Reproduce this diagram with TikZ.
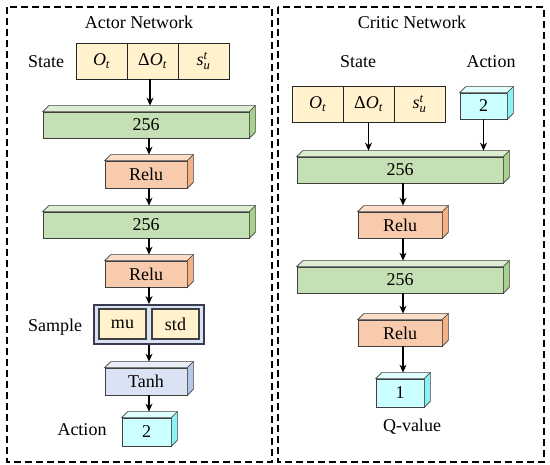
\documentclass[tikz,border=0pt]{standalone}
\usepackage{amsmath}
\usepackage{fontspec}
\setmainfont{Liberation Serif}
\usetikzlibrary{arrows.meta,calc}

\definecolor{cellfill}{HTML}{FFF2CC}
\definecolor{denseF}{HTML}{C5E0B4}
\definecolor{denseT}{HTML}{DCEDD2}
\definecolor{denseS}{HTML}{A9D18E}
\definecolor{reluF}{HTML}{F8CBAD}
\definecolor{reluT}{HTML}{FBDDC9}
\definecolor{reluS}{HTML}{F4B183}
\definecolor{tanhF}{HTML}{DAE3F3}
\definecolor{tanhT}{HTML}{E8EEF8}
\definecolor{tanhS}{HTML}{B4C7E7}
\definecolor{outF}{HTML}{CCFFFF}
\definecolor{outT}{HTML}{E0FFFF}
\definecolor{outS}{HTML}{8CF0F5}
\definecolor{edge}{HTML}{404040}

\tikzset{
  lbl/.style={font=\fontsize{18}{20}\selectfont, inner sep=0pt},
  cell/.style={draw=black!85, line width=0.8pt, fill=cellfill, minimum width=51pt, minimum height=36pt, inner sep=0pt, font=\fontsize{18}{20}\selectfont},
  layer/.style={draw=edge, line width=0.7pt, inner sep=0pt, minimum height=26pt, font=\fontsize{18}{20}\selectfont},
  flow/.style={-{Stealth[length=8pt,width=7pt]}, line width=1.4pt},
  frame/.style={line width=1.1pt, dash pattern=on 7pt off 4pt}
}

% top and side faces of a layer block
\newcommand{\blockfaces}[3]{%
  \filldraw[fill=#2, draw=edge, line width=0.7pt] (#1.north west) -- ++(6,-6) -- ([shift={(6,-6)}]#1.north east) -- (#1.north east) -- cycle;
  \filldraw[fill=#3, draw=edge, line width=0.7pt] (#1.north east) -- ++(6,-6) -- ([shift={(6,-6)}]#1.south east) -- (#1.south east) -- cycle;
}

\begin{document}
\begin{tikzpicture}[x=1pt, y=-1pt]
  \useasboundingbox (0,0) rectangle (550,465);

  % Frames
  \draw[frame] (7,7) rectangle (272,462);
  \draw[frame] (278,7) rectangle (544,462);

  % ---------------- Actor ----------------
  \node[lbl] (atitle) at (139,22) {Actor Network};
  \node[lbl] (astate) at (46,62) {State};
  \node[cell] (as1) at (101.5,61) {$\textit{O}_{\textit{t}}$};
  \node[cell] (as2) at (152.5,61) {Δ$\textit{O}_{\textit{t}}$};
  \node[cell] (as3) at (203.5,61) {$\textit{s}_{\textit{u}}^{\textit{t}}$};

  \node[layer, fill=denseF, minimum width=206pt] (ad1) at (146,125) {256};
  \node[layer, fill=reluF, minimum width=82pt, minimum height=27pt] (ar1) at (146,174.5) {Relu};
  \node[layer, fill=denseF, minimum width=206pt] (ad2) at (146,225) {256};
  \node[layer, fill=reluF, minimum width=82pt] (ar2) at (146,274) {Relu};

  % Sample block
  \node[draw=edge!90!blue, line width=1.8pt, fill=tanhF, minimum width=110pt, minimum height=39pt] (asmp) at (149,324.5) {};
  \node[cell, line width=1.3pt, draw=edge, minimum width=47pt, minimum height=30pt] (amu) at (122.5,324) {mu};
  \node[cell, line width=1.3pt, draw=edge, minimum width=47pt, minimum height=30pt] (astd) at (175.5,324) {std};
  \node[lbl] (asmplbl) at (55,327) {Sample};

  \node[layer, fill=tanhF, minimum width=82pt, minimum height=27pt] (atanh) at (146,381.5) {Tanh};
  \node[layer, fill=outF, minimum width=49pt, minimum height=28pt] (aout) at (146.5,432) {2};
  \node[lbl] (aoutlbl) at (82,430) {Action};

  \foreach \n/\t/\s in {ad1/denseT/denseS, ar1/reluT/reluS, ad2/denseT/denseS, ar2/reluT/reluS, atanh/tanhT/tanhS, aout/outT/outS}
    {\blockfaces{\n}{\t}{\s}}

  % Actor arrows
  \draw[flow] ([xshift=-2.5pt]as2.south) -- ([xshift=4pt,yshift=6pt]ad1.north);
  \draw[flow] ([xshift=3pt]ad1.south) -- ([xshift=3pt,yshift=6pt]ar1.north);
  \draw[flow] ([xshift=3pt]ar1.south) -- ([xshift=3pt,yshift=6pt]ad2.north);
  \draw[flow] ([xshift=3pt]ad2.south) -- ([xshift=3pt,yshift=6pt]ar2.north);
  \draw[flow] ([xshift=3pt]ar2.south) -- ([xshift=0pt]asmp.north);
  \draw[flow] (asmp.south) -- ([xshift=3pt,yshift=6pt]atanh.north);
  \draw[flow] ([xshift=3pt]atanh.south) -- ([xshift=2.5pt,yshift=6pt]aout.north);

  % ---------------- Critic ----------------
  \node[lbl] (ctitle) at (412,22) {Critic Network};
  \node[lbl] (cstate) at (358,62) {State};
  \node[lbl] (cactlbl) at (491,62) {Action};
  \node[cell] (cs1) at (317.5,104) {$\textit{O}_{\textit{t}}$};
  \node[cell] (cs2) at (368.5,104) {Δ$\textit{O}_{\textit{t}}$};
  \node[cell] (cs3) at (419.5,104) {$\textit{s}_{\textit{u}}^{\textit{t}}$};
  \node[layer, fill=outF, minimum width=47pt] (cact) at (483.5,106) {2};

  \node[layer, fill=denseF, minimum width=206pt] (cd1) at (400,170) {256};
  \node[layer, fill=reluF, minimum width=84pt] (cr1) at (400,225) {Relu};
  \node[layer, fill=denseF, minimum width=206pt] (cd2) at (400,280) {256};
  \node[layer, fill=reluF, minimum width=84pt] (cr2) at (400,333) {Relu};
  \node[layer, fill=outF, minimum width=48pt, minimum height=28pt] (cq) at (400,393) {1};
  \node[lbl] (cqlbl) at (412,427) {Q-value};

  \foreach \n/\t/\s in {cact/outT/outS, cd1/denseT/denseS, cr1/reluT/reluS, cd2/denseT/denseS, cr2/reluT/reluS, cq/outT/outS}
    {\blockfaces{\n}{\t}{\s}}

  % Critic arrows
  \draw[flow] (cs2.south) -- ($(cs2.south |- cd1.north)+(0,-6)$);
  \draw[flow] (cact.south) -- ($(cact.south |- cd1.north)+(0,-6)$);
  \draw[flow] ([xshift=3pt]cd1.south) -- ([xshift=3pt,yshift=6pt]cr1.north);
  \draw[flow] ([xshift=3pt]cr1.south) -- ([xshift=3pt,yshift=6pt]cd2.north);
  \draw[flow] ([xshift=3pt]cd2.south) -- ([xshift=3pt,yshift=6pt]cr2.north);
  \draw[flow] ([xshift=3pt]cr2.south) -- ([xshift=3pt,yshift=6pt]cq.north);
\end{tikzpicture}
\end{document}
